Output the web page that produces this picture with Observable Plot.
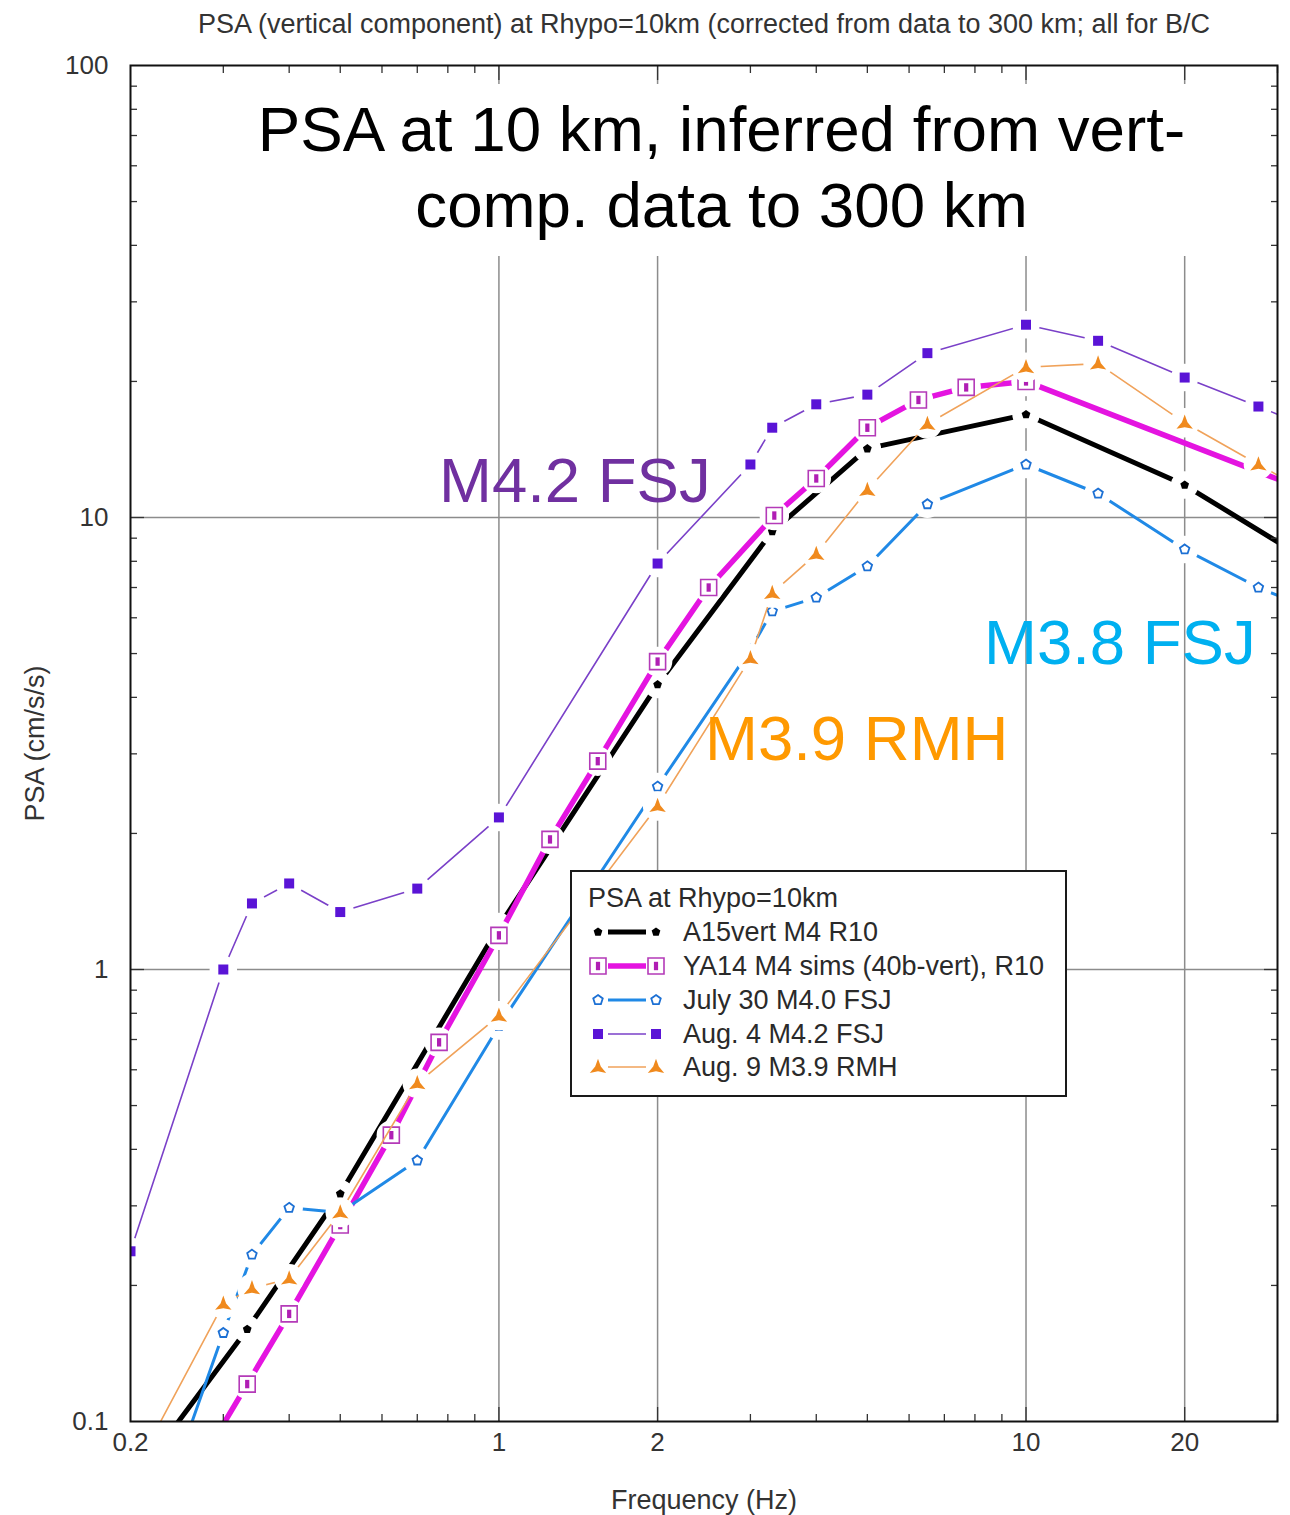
<!DOCTYPE html>
<html>
<head>
<meta charset="utf-8">
<script src="https://cdn.jsdelivr.net/npm/d3@7"></script>
<script src="https://cdn.jsdelivr.net/npm/@observablehq/plot@0.6"></script>
<style>
  body { margin: 0; background: #fff; }
  #wrap { position: relative; width: 1290px; height: 1515px; font-family: "Liberation Sans", Arial, sans-serif; overflow: hidden; }
  #wrap > svg { position: absolute; left: 0; top: 0; }
  .headline { position: absolute; left: 175px; top: 84px; width: 1093px; height: 172px; box-sizing: border-box;
              padding-top: 7px; background: #fff; text-align: center; font-size: 63.7px; line-height: 76px; color: #000; }
  .tag { position: absolute; font-size: 63.5px; line-height: 1; white-space: nowrap; }
  .legend { position: absolute; left: 570px; top: 870px; width: 497px; height: 227px; box-sizing: border-box;
            border: 2px solid #1a1a1a; background: #fff; color: #2a2a2a; font-size: 27px; }
  .legend .row { position: absolute; left: 0; height: 34px; line-height: 34px; white-space: nowrap; }
  .legend .row svg { position: absolute; left: 0; top: 0; }
  .legend .row span { position: absolute; left: 111px; }
</style>
</head>
<body>
<div id="wrap"></div>
<script>
// ---- Spectral values: frequency (Hz) and PSA (cm/s/s) for each curve ----
const A15_FREQ  = [0.2, 0.333, 0.5, 1, 2, 3.3, 5, 10, 20, 33.3];
const A15_PSA   = [0.072, 0.160, 0.319, 1.245, 4.27, 9.31, 14.2, 16.9, 11.8, 8.2];

const YA14_FREQ = [0.25, 0.333, 0.4, 0.5, 0.625, 0.77, 1, 1.25, 1.54, 2, 2.5, 3.33, 4, 5, 6.25, 7.7, 10, 33.3];
const YA14_PSA  = [0.069, 0.121, 0.173, 0.272, 0.43, 0.69, 1.19, 1.94, 2.89, 4.80, 7.0, 10.1, 12.2, 15.8, 18.2, 19.4, 20.0, 11.6];

const JUL30_FREQ = [0.2, 0.3, 0.34, 0.4, 0.5, 0.7, 1, 2, 3, 3.3, 4, 5, 6.5, 10, 13.7, 20, 27.6, 33.3];
const JUL30_PSA  = [0.041, 0.157, 0.234, 0.297, 0.29, 0.378, 0.75, 2.54, 5.1, 6.2, 6.65, 7.8, 10.7, 13.1, 11.3, 8.5, 7.0, 6.4];

const AUG4_FREQ = [0.2, 0.3, 0.34, 0.4, 0.5, 0.7, 1, 2, 3, 3.3, 4, 5, 6.5, 10, 13.7, 20, 27.6, 33.3];
const AUG4_PSA  = [0.238, 1.0, 1.40, 1.55, 1.34, 1.51, 2.17, 7.91, 13.1, 15.8, 17.8, 18.7, 23.1, 26.7, 24.6, 20.4, 17.6, 16.1];

const AUG9_FREQ = [0.2, 0.3, 0.34, 0.4, 0.5, 0.7, 1, 2, 3, 3.3, 4, 5, 6.5, 10, 13.7, 20, 27.6, 33.3];
const AUG9_PSA  = [0.075, 0.182, 0.197, 0.207, 0.29, 0.56, 0.79, 2.3, 4.88, 6.8, 8.3, 11.5, 16.1, 21.5, 21.9, 16.2, 13.1, 11.6];

const SERIES_NAMES = ["A15vert M4 R10", "YA14 M4 sims (40b-vert), R10", "July 30 M4.0 FSJ", "Aug. 4 M4.2 FSJ", "Aug. 9 M3.9 RMH"];

// ---- Axis ticks ----
const X_LABEL_TICKS = [0.2, 1, 2, 10, 20];
const X_MAJOR_TICKS = [1, 2, 10, 20];
const X_MINOR_TICKS = [0.3, 0.4, 0.5, 0.6, 0.7, 0.8, 0.9, 3, 4, 5, 6, 7, 8, 9, 30];
const X_GRID = [1, 2, 10, 20];
const Y_LABEL_TICKS = [0.1, 1, 10, 100];
const Y_MAJOR_TICKS = [1, 10];
const Y_MINOR_TICKS = [0.2, 0.3, 0.4, 0.5, 0.6, 0.7, 0.8, 0.9, 2, 3, 4, 5, 6, 7, 8, 9, 20, 30, 40, 50, 60, 70, 80, 90];
const Y_GRID = [1, 10];

// ---- Marker shapes (radius derived from symbol area, as Plot passes it) ----
const rad = size => Math.sqrt(size / Math.PI);
const polygon = (ctx, pts) => { pts.forEach(([x, y], i) => i ? ctx.lineTo(x, y) : ctx.moveTo(x, y)); ctx.closePath(); };
const pentagon = { draw(ctx, size) { const r = rad(size);
  polygon(ctx, d3.range(5).map(i => { const a = -Math.PI / 2 + i * 2 * Math.PI / 5; return [r * Math.cos(a), r * Math.sin(a)]; })); } };
const box = { draw(ctx, size) { const r = rad(size); ctx.rect(-r, -r, 2 * r, 2 * r); } };
const bar = { draw(ctx, size) { const r = rad(size); ctx.rect(-r * 0.5, -r, r, 2 * r); } };
const disc = { draw(ctx, size) { const r = rad(size); ctx.moveTo(r, 0); ctx.arc(0, 0, r, 0, 2 * Math.PI); ctx.closePath(); } };
const tripod = { draw(ctx, size) { const r = rad(size);
  polygon(ctx, d3.range(6).map(i => { const a = -Math.PI / 2 + i * Math.PI / 3; const rr = i % 2 ? r * 0.34 : r; return [rr * Math.cos(a), rr * Math.sin(a) + r * 0.12]; })); } };

// ---- Curve styles, in drawing order ----
const LOOKS = [
  { line: "#000000", lw: 5,   symbol: pentagon, r: 4.6, fill: "#000000", stroke: "none", sw: 0, halo: 13 },
  { line: "#e414e0", lw: 5.5, symbol: box,      r: 8,   fill: "#ffffff", stroke: "#b43ab8", sw: 1.6, halo: 14,
    inner: { symbol: bar, r: 4.2, fill: "#b01eb4" } },
  { line: "#2089e6", lw: 3,   symbol: pentagon, r: 5,   fill: "#ffffff", stroke: "#1c70d4", sw: 1.8, halo: 13 },
  { line: "#7a40c8", lw: 1.6, symbol: box,      r: 5,   fill: "#5a14d6", stroke: "none", sw: 0, halo: 13 },
  { line: "#f0a25a", lw: 1.6, symbol: tripod,   r: 9.5, fill: "#f08a1e", stroke: "none", sw: 0, halo: 14 }
];
const KNOCKOUT = "#ffffff";

const SOURCES = [[A15_FREQ, A15_PSA], [YA14_FREQ, YA14_PSA], [JUL30_FREQ, JUL30_PSA], [AUG4_FREQ, AUG4_PSA], [AUG9_FREQ, AUG9_PSA]];
const rows = SOURCES.map(([fs, ps], k) => fs.map((f, i) => ({ series: SERIES_NAMES[k], f, psa: ps[i] })));

// Each curve: its line, then a white knock-out disc under every marker, then the marker itself
const curveMarks = rows.flatMap((data, k) => {
  const s = LOOKS[k];
  const m = [
    Plot.line(data, { x: "f", y: "psa", stroke: s.line, strokeWidth: s.lw, clip: true }),
    Plot.dot(data, { x: "f", y: "psa", r: s.halo, symbol: disc, fill: KNOCKOUT, stroke: KNOCKOUT, clip: true }),
    Plot.dot(data, { x: "f", y: "psa", r: s.r, symbol: s.symbol, fill: s.fill, stroke: s.stroke, strokeWidth: s.sw, clip: true })
  ];
  if (s.inner) m.push(Plot.dot(data, { x: "f", y: "psa", r: s.inner.r, symbol: s.inner.symbol, fill: s.inner.fill, stroke: "none", clip: true }));
  return m;
});

const blank = () => "";
const tickMarks = [];
for (const anchor of ["bottom", "top"]) {
  tickMarks.push(Plot.axisX(X_MAJOR_TICKS, { anchor, tickSize: -14, tickFormat: blank, label: null, strokeWidth: 1.3 }));
  tickMarks.push(Plot.axisX(X_MINOR_TICKS, { anchor, tickSize: -7, tickFormat: blank, label: null, strokeWidth: 1.3 }));
}
for (const anchor of ["left", "right"]) {
  tickMarks.push(Plot.axisY(Y_MAJOR_TICKS, { anchor, tickSize: -14, tickFormat: blank, label: null, strokeWidth: 1.3 }));
  tickMarks.push(Plot.axisY(Y_MINOR_TICKS, { anchor, tickSize: -7, tickFormat: blank, label: null, strokeWidth: 1.3 }));
}

const chart = Plot.plot({
  width: 1290,
  height: 1515,
  marginLeft: 130,
  marginRight: 13,
  marginTop: 65,
  marginBottom: 94,
  x: { type: "log", domain: [0.2, 30] },
  y: { type: "log", domain: [0.1, 100] },
  style: { fontFamily: "'Liberation Sans', Arial, sans-serif", fontSize: "26px", color: "#333", background: "#fff", overflow: "visible" },
  marks: [
    Plot.gridX(X_GRID, { stroke: "#8c8c8c", strokeOpacity: 1, strokeWidth: 1.5 }),
    Plot.gridY(Y_GRID, { stroke: "#8c8c8c", strokeOpacity: 1, strokeWidth: 1.5 }),
    ...curveMarks,
    ...tickMarks,
    Plot.axisX(X_LABEL_TICKS, { anchor: "bottom", tickSize: 0, tickPadding: 11, tickFormat: d => String(d), label: null }),
    Plot.axisY(Y_LABEL_TICKS, { anchor: "left", tickSize: 0, tickPadding: 22, tickFormat: d => String(d), label: null }),
    Plot.text(["Frequency (Hz)"], { frameAnchor: "bottom", lineAnchor: "middle", dy: 79, fill: "#333", fontSize: 27 }),
    Plot.text(["PSA (cm/s/s)"], { frameAnchor: "left", textAnchor: "middle", lineAnchor: "middle", dx: -95, rotate: -90, fill: "#333", fontSize: 27 }),
    Plot.text(["PSA (vertical component) at Rhypo=10km (corrected from data to 300 km; all for B/C"],
      { frameAnchor: "top", lineAnchor: "middle", dy: -41, fill: "#333", fontSize: 27 }),
    Plot.frame({ stroke: "#111", strokeWidth: 2 })
  ]
});

const wrap = document.getElementById("wrap");
wrap.appendChild(chart);

// Headline block (its white backing hides the grid lines behind it)
const head = document.createElement("div");
head.className = "headline";
head.innerHTML = "PSA at 10 km, inferred from vert-<br>comp. data to 300 km";
wrap.appendChild(head);

// Event annotations
const TAGS = [
  { text: "M4.2 FSJ", color: "#7030a0", left: 439, top: 449 },
  { text: "M3.8 FSJ", color: "#00b0f0", left: 984, top: 611 },
  { text: "M3.9 RMH", color: "#ff9900", left: 705, top: 707 }
];
for (const t of TAGS) {
  const el = document.createElement("div");
  el.className = "tag";
  el.textContent = t.text;
  el.style.color = t.color;
  el.style.left = t.left + "px";
  el.style.top = t.top + "px";
  wrap.appendChild(el);
}

// Legend
const legend = document.createElement("div");
legend.className = "legend";
wrap.appendChild(legend);
const title = document.createElement("div");
title.className = "row";
title.style.top = "9px";
title.style.left = "16px";
title.textContent = "PSA at Rhypo=10km";
legend.appendChild(title);
const ROW_TOPS = [43, 77, 111, 145, 178];
SERIES_NAMES.forEach((name, k) => {
  const s = LOOKS[k];
  const row = document.createElement("div");
  row.className = "row";
  row.style.top = ROW_TOPS[k] + "px";
  row.style.width = "490px";
  const svg = d3.create("svg").attr("width", 110).attr("height", 34);
  svg.append("line").attr("x1", 36).attr("x2", 74).attr("y1", 17).attr("y2", 17)
    .attr("stroke", s.line).attr("stroke-width", s.lw);
  for (const cx of [26, 84]) {
    const g = svg.append("g").attr("transform", `translate(${cx},17)`);
    g.append("path").attr("d", d3.symbol(s.symbol, Math.PI * s.r * s.r)())
      .attr("fill", s.fill).attr("stroke", s.stroke).attr("stroke-width", s.sw);
    if (s.inner) g.append("path").attr("d", d3.symbol(s.inner.symbol, Math.PI * s.inner.r * s.inner.r)()).attr("fill", s.inner.fill);
  }
  row.appendChild(svg.node());
  const label = document.createElement("span");
  label.textContent = name;
  row.appendChild(label);
  legend.appendChild(row);
});
</script>
</body>
</html>
